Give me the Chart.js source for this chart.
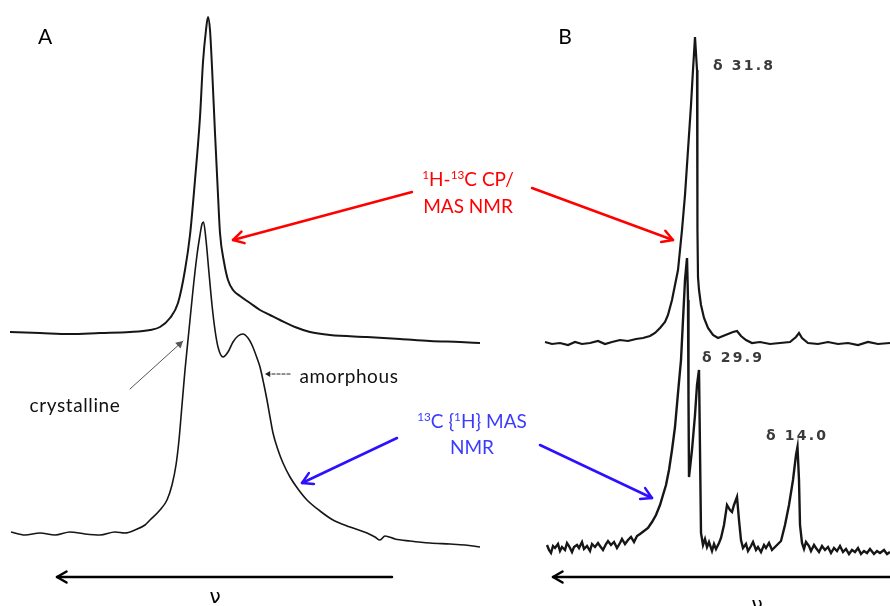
<!DOCTYPE html>
<html>
<head>
<meta charset="utf-8">
<script src="https://cdn.jsdelivr.net/npm/chart.js@4.4.1/dist/chart.umd.min.js"></script>
<style>
  body { margin: 0; background: #fff; }
  #wrap { position: relative; width: 890px; height: 606px; overflow: hidden; }
  #nmrChart { position: absolute; left: 0; top: 0; }
  .lbl {
    position: absolute;
    transform: translate(-50%, -50%);
    white-space: nowrap;
    line-height: 1;
    font-family: Lato, "Open Sans", sans-serif;
  }
  .lbl sup { font-size: 0.62em; vertical-align: 0.55em; line-height: 0; }
  .delta { font-family: "DejaVu Sans", sans-serif; font-weight: bold; font-size: 14px; letter-spacing: 2.2px; color: #3a3a3a; }
  .scan { font-size: 19px; letter-spacing: 0.6px; color: #111; }
  .red { color: #ff0000; font-size: 19px; }
  .blue { color: #3b3bff; font-size: 19px; }
</style>
</head>
<body>
<div id="wrap">
  <canvas id="nmrChart" width="890" height="606"></canvas>

  <div class="lbl" style="left:45px;top:35px;font-size:21px">A</div>
  <div class="lbl" style="left:565px;top:35px;font-size:21px">B</div>

  <div class="lbl delta" style="left:744px;top:65px">δ 31.8</div>
  <div class="lbl delta" style="left:733px;top:357px">δ 29.9</div>
  <div class="lbl delta" style="left:797px;top:435px">δ 14.0</div>

  <div class="lbl scan" style="left:75px;top:404px">crystalline</div>
  <div class="lbl scan" style="left:349px;top:375px">amorphous</div>

  <div class="lbl red" style="left:468px;top:178px"><sup>1</sup>H-<sup>13</sup>C CP/</div>
  <div class="lbl red" style="left:468px;top:205px">MAS NMR</div>

  <div class="lbl blue" style="left:472px;top:420px"><sup>13</sup>C {<sup>1</sup>H} MAS</div>
  <div class="lbl blue" style="left:472px;top:446px">NMR</div>

  <div class="lbl" style="left:215px;top:596px;font-size:20px;font-family:'DejaVu Sans',sans-serif">ν</div>
  <div class="lbl" style="left:757px;top:604px;font-size:20px;font-family:'DejaVu Sans',sans-serif">ν</div>
</div>

<script>
// Panel A, 1H-13C CP/MAS (upper trace)
const cpANu = [10, 40, 70, 100, 130, 150, 160, 170, 178, 185, 190, 195, 200, 203, 206, 208, 210, 212, 215, 218, 220, 224, 228, 233, 240, 250, 260, 270, 280, 295, 310, 330, 367, 400, 430, 460, 480];
const cpAInt = [0, -1, -2, -1, 0, 2, 5, 14, 29, 62, 97, 152, 215, 270, 302, 315, 302, 265, 199, 137, 99, 70, 52, 42, 36, 29, 22, 17, 12, 5, 0, -3, -5, -7, -9, -10, -11];

// Panel A, 13C{1H} MAS (lower trace)
const masANu = [11, 25, 40, 55, 70, 85, 100, 115, 125, 135, 145, 150, 160, 167, 172, 176, 179, 182, 185, 189, 193, 197, 200, 202, 203.5, 206, 209, 212, 215, 218, 223, 228, 233, 238, 243, 248, 252, 257, 260, 264, 267, 270, 273, 278, 283, 290, 298, 307, 320, 333, 350, 367, 375, 380, 385, 395, 410, 430, 450, 465, 480];
const masAInt = [1, -2, 0, -2, 1, -1, -2, 1, 0, 3, 8, 13, 23, 33, 48, 68, 93, 128, 163, 203, 243, 278, 298, 309, 311, 293, 260, 228, 203, 186, 176, 181, 191, 197, 199, 195, 188, 175, 166, 148, 133, 116, 100, 83, 70, 56, 44, 33, 22, 13, 6, 0, -4, -7, -3, -6, -8, -10, -11, -12, -14];

// Panel B, 1H-13C CP/MAS (upper trace)
const cpBNu = [545, 552, 560, 568, 575, 582, 590, 598, 605, 612, 620, 628, 636, 643, 650, 655, 660, 665, 668, 672, 675, 678, 680, 682, 685, 688, 691, 693, 695, 697, 697.3, 697.6, 698, 699, 701, 704, 708, 713, 718, 723, 728, 733, 737, 741, 746, 752, 760, 770, 780, 790, 796, 799, 802, 808, 818, 828, 838, 848, 858, 868, 878, 890];
const cpBInt = [1, -1, 0, -2, 1, -1, 0, 2, -1, 1, 3, 2, 4, 5, 7, 10, 15, 21, 28, 43, 58, 73, 93, 113, 148, 193, 238, 273, 306, 273, 193, 113, 66, 53, 38, 25, 15, 8, 5, 7, 9, 11, 12, 7, 3, 0, 1, -1, 0, 1, 6, 10, 5, 0, -1, 1, -1, 0, -2, 1, -1, 0];

// Panel B, 13C{1H} MAS (lower trace)
const masBNu = [547, 549, 551, 553, 555, 558, 560, 562, 565, 567, 569, 572, 574, 577, 579, 582, 584, 587, 590, 592, 595, 598, 600, 603, 606, 608, 611, 614, 617, 620, 622, 625, 628, 631, 634, 637, 640, 644, 648, 652, 656, 660, 663, 666, 669, 672, 675, 678, 681, 683, 685, 687, 688, 688.5, 689, 692, 695, 697, 699, 700, 701, 703, 705, 707, 709, 712, 714, 716, 719, 721, 724, 727, 730, 732, 734, 737, 739, 741, 743, 746, 748, 751, 753, 756, 758, 761, 764, 766, 769, 772, 775, 778, 781, 785, 789, 793, 796, 797.5, 799, 800, 802, 804, 806, 809, 811, 814, 816, 819, 822, 825, 828, 831, 834, 837, 840, 843, 846, 849, 852, 855, 858, 861, 864, 867, 870, 874, 877, 880, 884, 887, 890];
const masBInt = [3, -2, -5, 2, 0, 4, -3, 1, -2, 5, 2, -4, 1, 3, 0, 6, -1, 2, -3, 4, 1, 5, 2, -2, 4, 7, 3, 6, 0, 5, 9, 4, 8, 11, 6, 12, 14, 17, 20, 26, 33, 43, 53, 63, 78, 98, 121, 155, 188, 228, 268, 290, 248, 148, 71, 98, 133, 163, 178, 98, 15, 3, 9, 1, 6, -3, 4, -1, 5, 10, 23, 43, 38, 36, 43, 51, 28, 8, 0, 4, -3, 2, 6, -2, 1, -4, 3, 0, 5, -2, 1, 4, 7, 23, 43, 68, 93, 101, 68, 23, 5, -1, 6, 2, -3, 3, 0, -4, 2, -2, 1, -5, 0, -3, 2, -4, -1, -6, -2, -4, 0, -6, -3, -5, -1, -6, -3, -5, -2, -6, -4];

// vertical offsets used to stack the traces
const cpAOffset = 274;
const masAOffset = 73;
const cpBOffset = 263;
const masBOffset = 58;

// arrows drawn on top of the spectra (pixel positions)
const arrows = [
  { from: [412, 192], to: [233, 240], color: "#ff0000", width: 2.5, head: "open", size: 12 },
  { from: [532, 188], to: [673, 240], color: "#ff0000", width: 2.5, head: "open", size: 12 },
  { from: [397, 438], to: [302, 483], color: "#2d10ff", width: 2.5, head: "open", size: 12 },
  { from: [540, 445], to: [652, 498], color: "#2d10ff", width: 2.5, head: "open", size: 12 },
  { from: [392, 577], to: [57, 577], color: "#000", width: 2.5, head: "open", size: 11 },
  { from: [890, 577], to: [553, 577], color: "#000", width: 2.5, head: "open", size: 11 },
  { from: [130, 389], to: [183, 341], color: "#555", width: 1, head: "filled", size: 8 },
  { from: [290, 374], to: [265, 374], color: "#222", width: 1.2, head: "filled", size: 6, dash: [3, 2] },
];

function toPoints(nu, intensity, offset) {
  return nu.map((x, i) => ({ x: x, y: offset + intensity[i] }));
}

function drawArrow(ctx, a) {
  const [x1, y1] = a.from;
  const [x2, y2] = a.to;
  const ang = Math.atan2(y2 - y1, x2 - x1);
  const spread = Math.PI / 6;

  ctx.save();
  ctx.strokeStyle = a.color;
  ctx.fillStyle = a.color;
  ctx.lineWidth = a.width;
  ctx.lineCap = "round";
  ctx.lineJoin = "round";
  ctx.setLineDash(a.dash || []);
  ctx.beginPath();
  ctx.moveTo(x1, y1);
  ctx.lineTo(x2, y2);
  ctx.stroke();
  ctx.setLineDash([]);

  const hx1 = x2 - a.size * Math.cos(ang - spread);
  const hy1 = y2 - a.size * Math.sin(ang - spread);
  const hx2 = x2 - a.size * Math.cos(ang + spread);
  const hy2 = y2 - a.size * Math.sin(ang + spread);

  ctx.beginPath();
  ctx.moveTo(hx1, hy1);
  ctx.lineTo(x2, y2);
  ctx.lineTo(hx2, hy2);
  if (a.head === "filled") {
    ctx.closePath();
    ctx.fill();
  } else {
    ctx.stroke();
  }
  ctx.restore();
}

const arrowPlugin = {
  id: "arrows",
  afterDatasetsDraw(chart) {
    arrows.forEach((a) => drawArrow(chart.ctx, a));
  },
};

function renderSpectra() {
  const ctx = document.getElementById("nmrChart");

  const traceStyle = {
    pointRadius: 0,
    borderColor: "#161616",
    fill: false,
    showLine: true,
  };

  new Chart(ctx, {
    type: "line",
    data: {
      datasets: [
        { ...traceStyle, label: "A CP/MAS", data: toPoints(cpANu, cpAInt, cpAOffset), borderWidth: 2, cubicInterpolationMode: "monotone" },
        { ...traceStyle, label: "A MAS", data: toPoints(masANu, masAInt, masAOffset), borderWidth: 1.6, cubicInterpolationMode: "monotone" },
        { ...traceStyle, label: "B CP/MAS", data: toPoints(cpBNu, cpBInt, cpBOffset), borderWidth: 2.2, tension: 0 },
        { ...traceStyle, label: "B MAS", data: toPoints(masBNu, masBInt, masBOffset), borderWidth: 2.4, tension: 0 },
      ],
    },
    options: {
      responsive: false,
      animation: false,
      layout: { padding: 0 },
      plugins: {
        legend: { display: false },
        tooltip: { enabled: false },
      },
      scales: {
        x: { type: "linear", min: 0, max: 890, display: false },
        y: { type: "linear", min: 0, max: 606, display: false },
      },
    },
    plugins: [arrowPlugin],
  });
}

renderSpectra();
</script>
</body>
</html>
